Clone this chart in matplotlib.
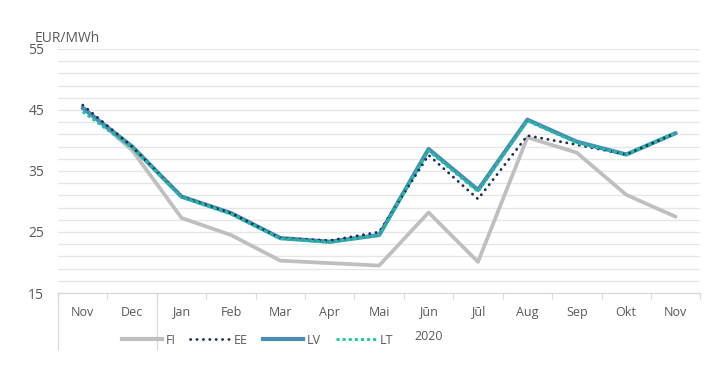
import matplotlib.pyplot as plt
from matplotlib.lines import Line2D

months = ['Nov', 'Dec', 'Jan', 'Feb', 'Mar', 'Apr', 'Mai', 'Jūn', 'Jūl', 'Aug', 'Sep', 'Okt', 'Nov']
fi = [45.5, 38.4, 27.3, 24.5, 20.3, 19.9, 19.5, 28.2, 20.1, 40.5, 38.0, 31.1, 27.5]
ee = [45.8, 39.0, 30.8, 28.1, 24.0, 23.6, 25.0, 37.6, 30.4, 40.8, 39.3, 37.7, 41.2]
lv = [45.3, 39.0, 30.8, 28.1, 24.0, 23.4, 24.5, 38.6, 31.9, 43.4, 39.8, 37.7, 41.2]
lt = [44.7, 38.8, 30.7, 27.9, 23.9, 23.3, 24.5, 38.3, 31.6, 43.2, 39.6, 37.7, 41.2]
year_label = '2020'

plt.rcParams['font.family'] = ['Open Sans', 'DejaVu Sans']
txt = '#595959'

fig = plt.figure(figsize=(7.11, 3.68), dpi=100)
ax = fig.add_axes([0.0816, 0.2038, 0.9034, 0.6632])
x = range(len(months))

ax.plot(x, fi, color='#BFBFBF', lw=2.7, solid_capstyle='round', zorder=3, label='FI')
ax.plot(x, lv, color='#4A8DB5', lw=3.0, solid_capstyle='round', zorder=4, label='LV')
ax.plot(x, ee, color='#1F2D5E', lw=2.0, linestyle=(0, (0.1, 2.2)), dash_capstyle='round',
        zorder=5, label='EE')
ax.plot(x, lt, color='#12C99A', lw=2.0, linestyle=(0, (1.1, 1.1)), zorder=6, label='LT')

ax.set_xlim(-0.5, 12.5)
ax.set_ylim(15, 55)
ax.set_yticks([15, 25, 35, 45, 55])
ax.set_yticks(range(17, 55, 2), minor=True)
ax.grid(axis='y', which='both', color='#E6E6E6', lw=0.9, zorder=0)
ax.tick_params(axis='y', which='both', length=0, labelsize=10, labelcolor=txt, pad=10)
ax.set_xticks(list(x))
ax.set_xticklabels(months)
ax.tick_params(axis='x', which='major', length=0, labelsize=9, labelcolor=txt, pad=9)
ax.set_xticks([i - 0.5 for i in range(14)], minor=True)
ax.tick_params(axis='x', which='minor', length=4, color='#D9D9D9', width=0.8)
for s in ['top', 'right', 'left']:
    ax.spines[s].set_visible(False)
ax.spines['bottom'].set_color('#D9D9D9')
ax.spines['bottom'].set_linewidth(0.9)

# long separators of the multi-level category axis
for xv in [-0.5, 1.5]:
    ax.plot([xv, xv], [0, -0.23], transform=ax.get_xaxis_transform(), color='#D9D9D9',
            lw=0.9, clip_on=False)

ax.text(7.0, -0.18, year_label, transform=ax.get_xaxis_transform(), ha='center', va='center',
        fontsize=9, color=txt)
fig.text(35 / 711, 1 - 38 / 368, 'EUR/MWh', ha='left', va='center', fontsize=10, color=txt)

handles = [
    Line2D([], [], color='#BFBFBF', lw=3.0),
    Line2D([], [], color='#1F2D5E', lw=2.0, linestyle=(0, (0.1, 2.2)), dash_capstyle='round'),
    Line2D([], [], color='#4A8DB5', lw=3.0),
    Line2D([], [], color='#12C99A', lw=2.0, linestyle=(0, (1.1, 1.1))),
]
fig.legend(handles, ['FI', 'EE', 'LV', 'LT'], ncol=4, frameon=False, loc='center',
           bbox_to_anchor=(0.362, 0.076), fontsize=9, labelcolor=txt, handlelength=3.2,
           handletextpad=0.3, columnspacing=1.2)

fig.savefig('out.png', dpi=100)
